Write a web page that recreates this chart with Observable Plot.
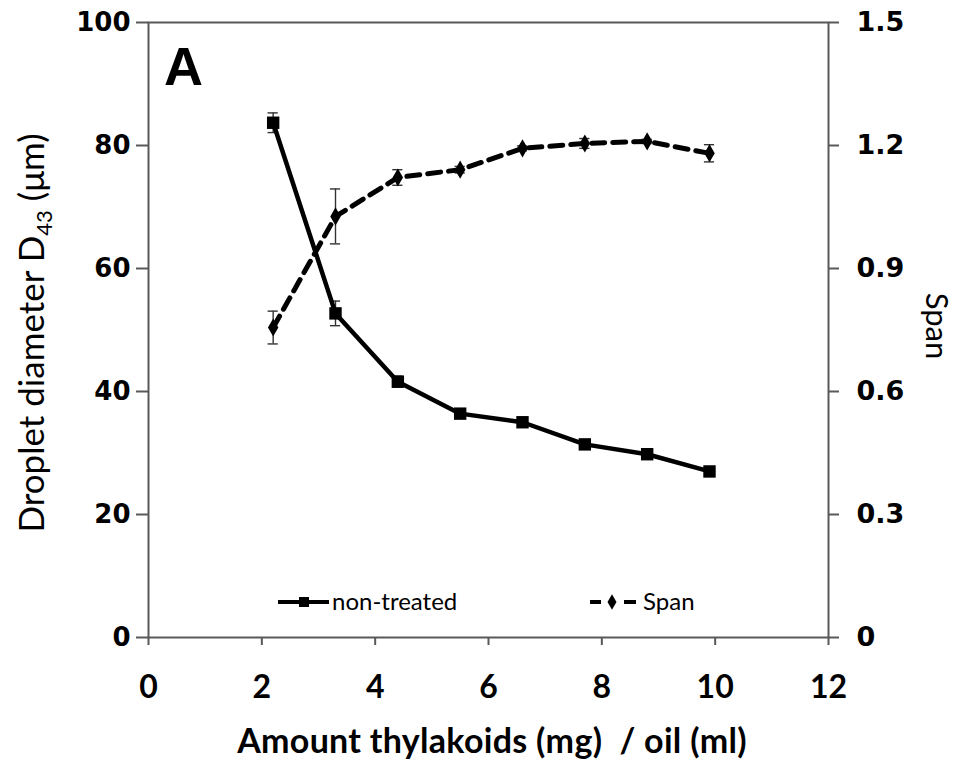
<!DOCTYPE html>
<html><head>
<meta charset="utf-8">
<script src="https://cdn.jsdelivr.net/npm/d3@7"></script>
<script src="https://cdn.jsdelivr.net/npm/@observablehq/plot@0.6"></script>
<style>body{margin:0;background:#fff}</style>
</head><body><div id="chart"></div>
<script>
const amount = [2.2, 3.3, 4.4, 5.5, 6.6, 7.7, 8.8, 9.9];
const diameter = [83.7, 52.7, 41.6, 36.4, 35.0, 31.4, 29.8, 27.0];
const diameterErr = [1.6, 2.0, 0.9, 0.6, 0.6, 0.6, 0.5, 0.5];
const span = [0.756, 1.027, 1.122, 1.141, 1.193, 1.205, 1.21, 1.181];
const spanErr = [0.04, 0.067, 0.019, 0.008, 0.006, 0.012, 0.005, 0.021];
const xTicks = [0, 2, 4, 6, 8, 10, 12];
const diameterTicks = [0, 20, 40, 60, 80, 100];
const spanTicks = [0, 0.3, 0.6, 0.9, 1.2, 1.5];
const seriesNames = ["non-treated", "Span"];
const xTitle = "Amount thylakoids (mg)  / oil (ml)";
const panelLabel = "A";

const spanMax = 1.5, diameterMax = 100;
const toLeft = s => s * diameterMax / spanMax;
const rows = amount.map((x, i) => ({
  x, d: diameter[i], de: diameterErr[i],
  s: toLeft(span[i]), se: toLeft(spanErr[i])
}));
const cap = 0.09;
const errStyle = {stroke: "#333", strokeWidth: 1.4};

const chart = Plot.plot({
  width: 964, height: 764,
  marginLeft: 148, marginRight: 136, marginTop: 22, marginBottom: 127,
  style: {background: "white", fontFamily: "Lato"},
  x: {domain: [0, 12]},
  y: {domain: [0, 100]},
  marks: [
    Plot.axisX({ticks: xTicks, tickSize: 8, tickPadding: 30, fontSize: 32, fontWeight: "bold", fontFamily: "Lato", label: null, tickFormat: d => String(d)}),
    Plot.axisY({ticks: diameterTicks, anchor: "left", tickSize: 12, tickPadding: 6, fontSize: 26, fontWeight: "bold", fontFamily: "DejaVu Sans", label: null, tickFormat: d => String(d)}),
    Plot.axisY({ticks: spanTicks.map(toLeft), anchor: "right", tickSize: 10, tickPadding: 18, fontSize: 27, fontWeight: "bold", fontFamily: "DejaVu Sans", label: null,
      tickFormat: d => { const s = d * spanMax / diameterMax; return Math.abs(s) < 1e-9 ? "0" : s.toFixed(1); }}),
    Plot.frame({stroke: "#595959", strokeWidth: 2}),
    // error bars
    Plot.ruleX(rows, {x: "x", y1: d => d.d - d.de, y2: d => d.d + d.de, ...errStyle}),
    Plot.ruleY(rows, {x1: d => d.x - cap, x2: d => d.x + cap, y: d => d.d + d.de, ...errStyle}),
    Plot.ruleY(rows, {x1: d => d.x - cap, x2: d => d.x + cap, y: d => d.d - d.de, ...errStyle}),
    Plot.ruleX(rows, {x: "x", y1: d => d.s - d.se, y2: d => d.s + d.se, ...errStyle}),
    Plot.ruleY(rows, {x1: d => d.x - cap, x2: d => d.x + cap, y: d => d.s + d.se, ...errStyle}),
    Plot.ruleY(rows, {x1: d => d.x - cap, x2: d => d.x + cap, y: d => d.s - d.se, ...errStyle}),
    // lines
    Plot.line(rows, {x: "x", y: "d", stroke: "black", strokeWidth: 4.5}),
    Plot.line(rows, {x: "x", y: "s", stroke: "black", strokeWidth: 5, strokeDasharray: "13,8"}),
    Plot.dot(rows, {x: "x", y: "d", symbol: "square", r: 7, fill: "black"}),
    Plot.dot(rows, {x: "x", y: "s", symbol: "diamond", r: 5.5, fill: "black"})
  ]
});
document.getElementById("chart").appendChild(chart);

const svg = d3.select(chart);
svg.selectAll('g[aria-label$="tick"] path').attr("stroke", "#595959").attr("stroke-width", 2);

// Panel label
svg.append("text").attr("x", 164).attr("y", 85).attr("text-anchor", "start")
  .attr("font-family", "Liberation Sans").attr("font-weight", "bold").attr("font-size", 54)
  .text(panelLabel);

// Left axis title with subscript
const lt = svg.append("text").attr("transform", "translate(44,333) rotate(-90)")
  .attr("text-anchor", "middle").attr("font-family", "Lato").attr("font-size", 35);
lt.append("tspan").text("Droplet diameter D");
lt.append("tspan").attr("font-size", 22).attr("dy", 8).text("43");
lt.append("tspan").attr("dy", -8).text(" (\u03bcm)");

// Right axis title
svg.append("text").attr("transform", "translate(926,326) rotate(90)")
  .attr("text-anchor", "middle").attr("font-family", "Lato").attr("font-size", 31)
  .text(seriesNames[1]);

// X axis title
svg.append("text").attr("x", 492).attr("y", 753)
  .attr("text-anchor", "middle").attr("font-family", "Lato").attr("font-weight", "bold").attr("font-size", 34)
  .attr("letter-spacing", 0.3)
  .text(xTitle);

// Legend
const lg = svg.append("g").attr("font-family", "Lato").attr("font-size", 24).attr("text-anchor", "start");
lg.append("line").attr("x1", 278).attr("x2", 329).attr("y1", 602).attr("y2", 602).attr("stroke", "black").attr("stroke-width", 4);
lg.append("rect").attr("x", 299).attr("y", 597).attr("width", 10).attr("height", 10).attr("fill", "black");
lg.append("text").attr("x", 332).attr("y", 610).text(seriesNames[0]);
lg.append("line").attr("x1", 590).attr("x2", 601).attr("y1", 602).attr("y2", 602).attr("stroke", "black").attr("stroke-width", 4);
lg.append("path").attr("d", d3.symbol(d3.symbolDiamond, 70)()).attr("transform", "translate(612,602)").attr("fill", "black");
lg.append("line").attr("x1", 624).attr("x2", 636).attr("y1", 602).attr("y2", 602).attr("stroke", "black").attr("stroke-width", 4);
lg.append("text").attr("x", 643).attr("y", 610).text(seriesNames[1]);
</script>
</body></html>
